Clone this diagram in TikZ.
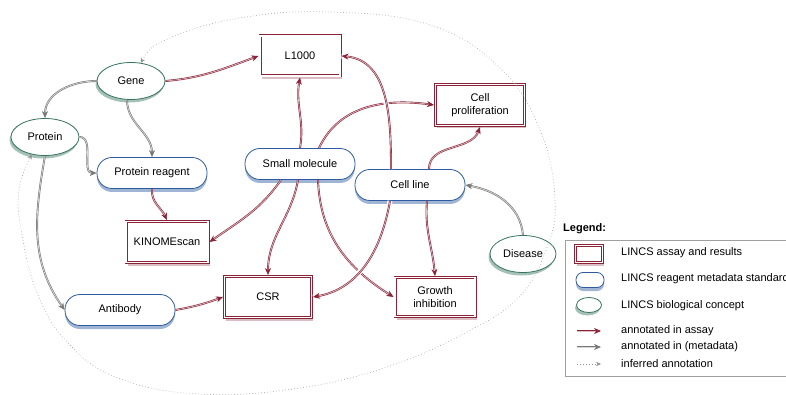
\documentclass[tikz,border=0pt]{standalone}
\usepackage{fontspec}
\setmainfont{Liberation Sans}
\usetikzlibrary{arrows.meta,shapes.geometric}

\definecolor{assayred}{RGB}{139,35,55}
\definecolor{reagentblue}{RGB}{45,90,160}
\definecolor{conceptgreen}{RGB}{55,115,95}
\definecolor{metagray}{RGB}{120,120,120}

\tikzset{
	assay/.style={draw=assayred, line width=3pt, fill=white, postaction={draw=white, line width=1.1pt},
		preaction={fill=assayred!30, transform canvas={xshift=1.5pt, yshift=-3pt}},
		align=center, inner sep=1pt, minimum width=80pt, minimum height=40pt},
	reagent/.style={draw=reagentblue, line width=.8pt, fill=white, rounded corners=15pt,
		preaction={fill=reagentblue!45, transform canvas={yshift=-3.5pt}},
		minimum width=110pt, minimum height=31pt},
	concept/.style={ellipse, draw=conceptgreen, line width=.8pt, fill=white, inner sep=0pt,
		preaction={fill=conceptgreen!45, transform canvas={xshift=-1.5pt, yshift=-3pt}},
		minimum width=68pt, minimum height=37pt},
	assayarrow/.style={draw=assayred, double=assayred!30, double distance=.7pt, line width=.6pt,
		-{Stealth[length=7pt,width=6pt]}},
	metaarrow/.style={draw=metagray, double=metagray!30, double distance=.7pt, line width=.6pt,
		-{Stealth[length=7pt,width=6pt]}},
	inferred/.style={draw=metagray!80, line width=.6pt, dash pattern=on .6pt off 2.4pt},
	halo/.style={preaction={draw=white, line width=5pt, -}},
	legtext/.style={anchor=west, inner sep=0pt}
}

\begin{document}
\begin{tikzpicture}[x=1pt, y=1pt, font=\fontsize{11}{13}\selectfont]
	\useasboundingbox (0,0) rectangle (786,-395);

	% assays
	\node[assay] (l1000) at (300,-56) {L1000};
	\node[assay, minimum width=89pt, minimum height=41pt] (cellprolif) at (480,-105) {Cell\\proliferation};
	\node[assay, minimum width=82pt, minimum height=41pt] (kinome) at (167,-242) {KINOMEscan};
	\node[assay, minimum width=87pt, minimum height=41pt] (csr) at (268,-297) {CSR};
	\node[assay, minimum height=39pt] (growth) at (435,-297) {Growth\\inhibition};

	% reagents
	\node[reagent] (preagent) at (152,-173) {Protein reagent};
	\node[reagent] (smallmol) at (300,-164) {Small molecule};
	\node[reagent] (cellline) at (410,-185) {Cell line};
	\node[reagent] (antibody) at (120,-310) {Antibody};

	% concepts
	\node[concept] (gene) at (131,-81) {Gene};
	\node[concept] (protein) at (45,-137) {Protein};
	\node[concept, minimum width=66pt] (disease) at (523,-254) {Disease};

	% inferred
	\draw[inferred, {Stealth[length=5pt,width=4.5pt]}-{Stealth[length=5pt,width=4.5pt]}]
		plot[smooth, tension=.7] coordinates {(gene.62) (170,-38) (240,-18) (330,-12) (430,-25)
		(500,-68) (540,-130) (555,-200) (546,-250) (518,-298) (465,-333) (390,-366)
		(300,-388) (200,-394) (118,-378) (68,-343) (38,-295) (22,-235) (19,-190) (protein.233)};

	% annotated in (metadata)
	\draw[metaarrow] (gene.west) to[out=180,in=90] (protein.north);
	\draw[metaarrow] ([xshift=-4pt]gene.south) to[out=-90,in=90] (preagent.north);
	\draw[metaarrow] (protein.east) to[out=0,in=180] (preagent.west);
	\draw[metaarrow] (protein.south) to[out=-100,in=125] (antibody.west);
	\draw[metaarrow] (disease.north) to[out=95,in=-10] (cellline.east);

	% annotated in assay
	\draw[assayarrow] (gene.east) to[out=5,in=200] (l1000.west);
	\draw[assayarrow] (smallmol.north) to[out=80,in=-100] (l1000.south);
	\draw[assayarrow] ([xshift=19pt]smallmol.north) to[out=65,in=172] (cellprolif.west);
	\draw[assayarrow] ([xshift=19pt]cellline.north) to[out=90,in=-110] (cellprolif.south);
	\draw[assayarrow] (preagent.south) to[out=-95,in=115] (kinome.north);
	\draw[assayarrow] ([xshift=-19pt]smallmol.south) to[out=-125,in=35] (kinome.east);
	\draw[assayarrow] ([xshift=-2pt]smallmol.south) to[out=-100,in=90] (csr.north);
	\draw[assayarrow] ([xshift=18pt]smallmol.south) to[out=-88,in=148] (growth.west);
	\draw[assayarrow] ([xshift=17pt]cellline.south) to[out=-95,in=95] (growth.north);
	\draw[assayarrow] (antibody.east) to[out=10,in=200] (csr.west);
	\draw[assayarrow, halo] ([xshift=-19pt]cellline.north) to[out=90,in=-5] (l1000.east);
	\draw[assayarrow, halo] ([xshift=-20pt]cellline.south) to[out=-100,in=10] (csr.east);

	% legend
	\node[font=\bfseries\fontsize{11}{13}\selectfont, legtext] (legtitle) at (563,-229) {Legend:};
	\draw[metagray!70, line width=.6pt] (565,-240) rectangle (800,-376);
	\node[assay, minimum width=27pt, minimum height=17pt] (legassay) at (589,-254) {};
	\node[reagent, minimum width=28pt, minimum height=15pt, rounded corners=7pt] (legreagent) at (590,-280) {};
	\node[concept, minimum width=25pt, minimum height=15pt] (legconcept) at (589,-305) {};
	\coordinate (la1) at (577,-331);
	\coordinate (la2) at (601,-331);
	\coordinate (lm1) at (577,-347);
	\coordinate (lm2) at (601,-347);
	\coordinate (li1) at (577,-364);
	\coordinate (li2) at (601,-364);
	\draw[assayarrow] (la1) -- (la2);
	\draw[metaarrow] (lm1) -- (lm2);
	\draw[inferred, -{Stealth[length=5pt,width=4.5pt]}] (li1) -- (li2);
	\node[legtext] (legt1) at (621,-253) {LINCS assay and results};
	\node[legtext] (legt2) at (621,-279) {LINCS reagent metadata standard};
	\node[legtext] (legt3) at (621,-306) {LINCS biological concept};
	\node[legtext] (legt4) at (621,-331) {annotated in assay};
	\node[legtext] (legt5) at (621,-347) {annotated in (metadata)};
	\node[legtext] (legt6) at (621,-364) {inferred annotation};

\end{tikzpicture}
\end{document}
